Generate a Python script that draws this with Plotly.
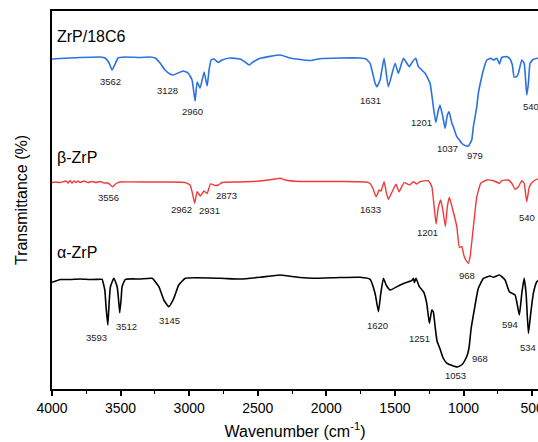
import plotly.graph_objects as go

# ---------------- data ----------------
# ZrP/18C6 (blue), offset-stacked transmittance (arbitrary units)
wn_zrp18c6 = [4000, 3941, 3795, 3649, 3613, 3584, 3562, 3540, 3518, 3467, 3358, 3285, 3248,
              3212, 3176, 3139, 3117, 3081, 3044, 3008, 2979, 2957, 2942, 2920, 2891, 2869,
              2855, 2840, 2818, 2789, 2760, 2702, 2629, 2592, 2563, 2534, 2483, 2337, 2264,
              2191, 2118, 2046, 1900, 1754, 1710, 1681, 1645, 1632, 1608, 1579, 1548, 1499,
              1475, 1438, 1395, 1377, 1348, 1329, 1280, 1244, 1220, 1202, 1183, 1171, 1151,
              1134, 1118, 1105, 1085, 1074, 1049, 1030, 1013, 989, 964, 952, 940, 928, 903,
              892, 867, 855, 830, 801, 782, 757, 738, 721, 680, 660, 644, 631, 612, 600, 575,
              558, 539, 527, 515, 491, 459, 440]
t_zrp18c6 = [330, 330.5, 331.5, 332, 331, 326, 319, 325, 331, 332, 331.5, 332, 331,
             326, 319, 315, 314, 316, 318, 316, 309, 288, 307, 301, 317, 303,
             319, 329, 330, 326.5, 329, 331, 330, 327, 324, 327, 330.7, 334, 331,
             329.5, 328.5, 330.3, 331, 331, 330, 325.7, 306, 302.3, 309, 330.7, 302.3, 325.7,
             315.7, 330.7, 322.3, 326.3, 330.7, 322.3, 315.7, 305.7, 282.3, 266.5, 279, 284, 272.3,
             260.7, 274, 277.3, 265.7, 262.3, 252.3, 249, 245.7, 243.5, 243, 245.7, 249, 262.3, 282.3,
             295.7, 312.3, 319, 329, 330.7, 329, 330.7, 325, 331.7, 332.3, 329.7, 324, 312, 312.3, 315.7, 329,
             325.7, 294, 305.7, 325.7, 329.7, 330.7, 331]

# beta-ZrP (red)
wn_beta = [4000, 3977, 3941, 3897, 3883, 3868, 3854, 3839, 3825, 3810, 3795, 3766, 3737,
           3708, 3679, 3649, 3620, 3591, 3557, 3533, 3504, 3285, 3139, 3030, 2993, 2975,
           2960, 2942, 2918, 2893, 2869, 2845, 2809, 2787, 2760, 2629, 2483, 2374, 2337,
           2301, 2191, 1900, 1710, 1681, 1659, 1637, 1615, 1601, 1579, 1564, 1548, 1528,
           1492, 1470, 1433, 1393, 1365, 1341, 1317, 1256, 1231, 1214, 1200, 1183, 1166,
           1151, 1132, 1118, 1103, 1078, 1049, 1030, 1013, 996, 981, 964, 952, 928, 903,
           874, 830, 782, 738, 721, 673, 648, 624, 600, 575, 558, 539, 520, 495, 466, 440]
t_beta = [206.5, 207, 206.5, 208, 206, 208.5, 206, 208, 206.5, 208, 206.5, 208, 206.5,
          207.5, 206.5, 207.5, 206, 206, 202.3, 205.5, 207, 207, 207, 206.5, 204, 195,
          185.7, 197.3, 193, 198, 195.5, 205, 203.5, 204, 206.5, 207, 208, 210, 210.7,
          209, 207.5, 207.5, 207, 205.5, 200, 192.3, 199, 198, 207.3, 197, 189.7, 195,
          204.7, 197.3, 206.3, 204, 207.3, 205, 207.3, 208.3, 202.3, 182.3, 165, 182.3, 189,
          179, 162.5, 182.3, 191.7, 179, 162.3, 141.5, 142.5, 133, 128.5, 125.7, 132.3, 162.3, 192.3,
          205.7, 209, 208.3, 205.7, 208.3, 209, 205.7, 199.7, 202.3, 208.3, 205.7, 187.3, 202.3, 207.3, 209.7, 210]

# alpha-ZrP (black)
wn_alpha = [4000, 3987, 3941, 3868, 3795, 3722, 3649, 3635, 3615, 3606, 3593, 3584, 3574,
            3549, 3525, 3514, 3506, 3496, 3489, 3465, 3358, 3270, 3221, 3185, 3149, 3112,
            3076, 3028, 2775, 2629, 2483, 2337, 2191, 2094, 1900, 1754, 1681, 1645, 1620,
            1603, 1584, 1564, 1535, 1462, 1401, 1377, 1365, 1358, 1346, 1322, 1292, 1268,
            1249, 1231, 1220, 1207, 1193, 1171, 1149, 1120, 1083, 1043, 1010, 985, 970, 959,
            945, 928, 908, 892, 855, 806, 782, 738, 697, 666, 624, 593, 575, 558, 544, 527,
            510, 491, 466, 440]
t_alpha = [107, 107.3, 109.5, 109.5, 110, 109.5, 109.7, 109.7, 99, 82, 64, 85, 102.3,
           110.7, 102.3, 88, 76.3, 90, 102.3, 109.7, 110, 110.7, 102.3, 89, 82.3, 90.7,
           104, 110.7, 110.7, 110, 111.7, 114, 111.5, 110.7, 111.5, 111.7, 109.7, 95.7, 77.3,
           95.7, 110.7, 104, 99, 104, 107.3, 108.3, 110.7, 106.3, 110.7, 102.3, 97.3, 85.7,
           65.7, 79, 77, 62.3, 48, 40, 31, 25.7, 23.5, 22, 24.5, 30, 35, 42,
           60, 74, 90, 100.7, 110.7, 113, 111.7, 114, 109, 97.3, 94, 74, 95.7, 110.7, 95.7, 55.7,
           75.7, 95.7, 107.3, 110]

series_names = ["ZrP/18C6", "β-ZrP", "α-ZrP"]
series_colors = ["#2A72E0", "#F03A3A", "#000000"]

# peak labels: text, x (wavenumber), y (offset transmittance)
peak_text_18c6 = ["3562", "3128", "2960", "1631", "1201", "1037", "979", "540"]
peak_x_18c6 = [3571, 3156, 2979, 1676, 1304, 1115, 916, 507]
peak_y_18c6 = [307.3, 299, 277.3, 288.3, 267, 240.7, 233.3, 282.3]

peak_text_beta = ["3556", "2962", "2931", "2873", "1633", "1201", "968", "540"]
peak_x_beta = [3589, 3054, 2853, 2726, 1681, 1260, 972, 539]
peak_y_beta = [191.3, 180, 178.3, 194, 179.7, 156.7, 114, 171.7]

peak_text_alpha = ["3593", "3512", "3145", "1620", "1251", "968", "1053", "594", "534"]
peak_x_alpha = [3673, 3460, 3144, 1628, 1322, 879, 1061, 660, 527]
peak_y_alpha = [51.7, 63, 69, 63.3, 50.7, 30.7, 13.3, 65, 41.7]

name_x = [3977, 3977, 3977]
name_y = [353, 231.5, 136.5]

x_ticks = [4000, 3500, 3000, 2500, 2000, 1500, 1000, 500]

# ---------------- figure ----------------
FONT = "Arial, 'Liberation Sans', sans-serif"
fig = go.Figure()
for wn, t, nm, col, lw in [(wn_zrp18c6, t_zrp18c6, series_names[0], series_colors[0], 1.6),
                           (wn_beta, t_beta, series_names[1], series_colors[1], 1.4),
                           (wn_alpha, t_alpha, series_names[2], series_colors[2], 1.6)]:
    fig.add_trace(go.Scatter(x=wn, y=t, mode="lines", name=nm,
                             line=dict(color=col, width=lw, shape="spline", smoothing=0.4)))

annotations = []
for txts, xs, ys in [(peak_text_18c6, peak_x_18c6, peak_y_18c6),
                     (peak_text_beta, peak_x_beta, peak_y_beta),
                     (peak_text_alpha, peak_x_alpha, peak_y_alpha)]:
    for tx, x, y in zip(txts, xs, ys):
        annotations.append(dict(x=x, y=y, text=tx, showarrow=False, xanchor="center",
                                yanchor="middle", font=dict(family=FONT, size=9.5, color="#222")))
for nm, x, y in zip(series_names, name_x, name_y):
    annotations.append(dict(x=x, y=y, text=nm, showarrow=False, xanchor="left",
                            yanchor="middle", font=dict(family=FONT, size=16, color="#000")))

fig.update_layout(
    width=538, height=442,
    margin=dict(l=52, r=0, t=11, b=53, autoexpand=False),
    paper_bgcolor="white", plot_bgcolor="white",
    showlegend=False,
    font=dict(family=FONT, color="#000"),
    annotations=annotations,
    xaxis=dict(range=[4000, 457], tickvals=x_ticks, ticks="outside", ticklen=5, tickwidth=1.5,
               tickcolor="#000", showline=True, linewidth=2, linecolor="#000", mirror=True,
               showgrid=False, zeroline=False, tickfont=dict(size=14, family=FONT),
               automargin=False, ticklabeloverflow="allow",
               minor=dict(dtick=250, tick0=0, ticks="outside", ticklen=3, tickwidth=1.2,
                          tickcolor="#000", showgrid=False),
               title=dict(text="Wavenumber (cm<sup>-1</sup>)", font=dict(size=16, family=FONT),
                          standoff=11)),
    yaxis=dict(range=[0, 378], showticklabels=False, ticks="", showline=True, linewidth=2,
               linecolor="#000", showgrid=False, zeroline=False, automargin=False,
               title=dict(text="Transmittance (%)", font=dict(size=16, family=FONT), standoff=18)),
)

# remove the default page margin / scrollbars so the figure fills the window exactly
fig.write_html("out.html",
               config={"displayModeBar": False},
               post_script="document.documentElement.style.overflow='hidden';"
                           "document.body.style.margin='0';document.body.style.overflow='hidden';")
